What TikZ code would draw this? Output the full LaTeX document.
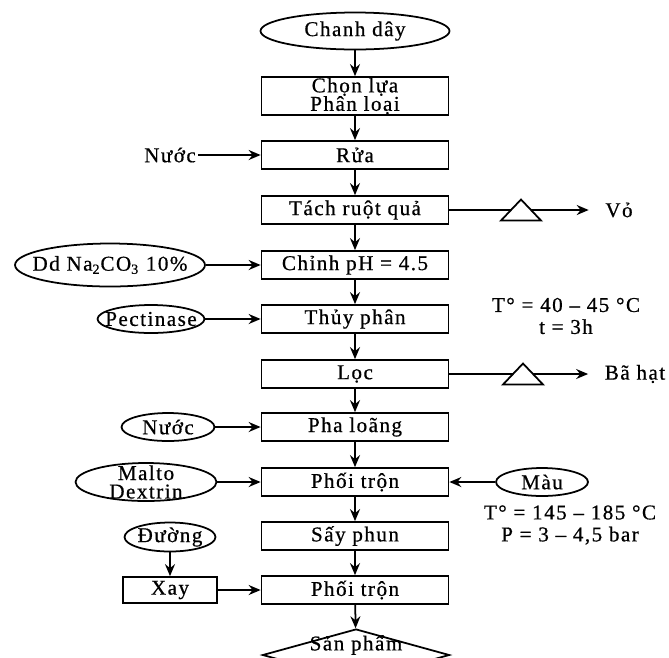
\documentclass[tikz,border=0pt]{standalone}
\usepackage{fontspec}
\setmainfont{Liberation Serif}[LetterSpace=7, FakeBold=0.6]
\usepackage{tikz}
\usetikzlibrary{arrows.meta}
\usetikzlibrary{shapes.geometric}
\tikzset{stage/.style = {draw, rectangle, minimum width=3.74cm, minimum height=0.56cm,
                         inner sep=0pt, align=center},
         feed/.style = {draw, ellipse, inner sep=-1cm, align=center},
         product/.style = {draw, diamond, inner sep=0pt, minimum width=3.74cm,
                           minimum height=1.04cm},
         note/.style = {inner sep=1pt, align=center}}

\begin{document}
\begin{tikzpicture}[x=0.02cm, y=-0.02cm, line width=1pt,
                    >={Stealth[length=2.4mm, width=2mm, inset=0.8mm]},
                    font=\fontsize{12}{10.5}\selectfont]
      \useasboundingbox (0, 0) rectangle (669, 657);

      % main line
      \node [feed, minimum width=3.78cm, minimum height=0.74cm] (chanh) at (355, 31) {Chanh dây};
      \node [stage, minimum height=0.76cm] (chon) at (355, 96) {Chọn lựa\\Phân loại};
      \node [stage] (rua) at (355, 155) {Rửa};
      \node [stage] (tach) at (355, 210) {Tách ruột quả};
      \node [stage] (chinh) at (355, 265) {Chỉnh pH = 4.5};
      \node [stage] (thuy) at (355, 319) {Thủy phân};
      \node [stage] (loc) at (355, 374) {Lọc};
      \node [stage] (pha) at (355, 427) {Pha loãng};
      \node [stage] (phoi1) at (355, 482) {Phối trộn};
      \node [stage] (say) at (355, 536) {Sấy phun};
      \node [stage] (phoi2) at (355, 590) {Phối trộn};
      \begin{scope}
        \clip (0, 0) rectangle (669, 657);
        \node [product, label={[yshift=0.2cm]center:Sản phẩm}] (sp) at (356, 655) {};
      \end{scope}

      \draw [->] (chanh) -- (chon);
      \draw [->] (chon) -- (rua);
      \draw [->] (rua) -- (tach);
      \draw [->] (tach) -- (chinh);
      \draw [->] (chinh) -- (thuy);
      \draw [->] (thuy) -- (loc);
      \draw [->] (loc) -- (pha);
      \draw [->] (pha) -- (phoi1);
      \draw [->] (phoi1) -- (say);
      \draw [->] (say) -- (phoi2);
      \draw [->] (phoi2) -- (sp);

      % inputs
      \node [note] (nuoc1) at (170, 155) {Nước};
      \node [feed, minimum width=3.8cm, minimum height=0.86cm] (dd) at (110, 265) {Dd Na\textsubscript{2}CO\textsubscript{3} 10\%};
      \node [feed, minimum width=2.14cm, minimum height=0.56cm] (pectin) at (151, 319) {Pectinase};
      \node [feed, minimum width=1.86cm, minimum height=0.56cm] (nuoc2) at (168, 427) {Nước};
      \node [feed, minimum width=2.82cm, minimum height=0.76cm] (malto) at (146, 482) {Malto\\Dextrin};
      \node [feed, minimum width=1.84cm, minimum height=0.56cm] (mau) at (542, 482) {Màu};
      \node [feed, minimum width=1.82cm, minimum height=0.58cm] (duong) at (170, 537) {Đường};
      \node [stage, minimum width=1.88cm, minimum height=0.52cm] (xay) at (170, 590) {Xay};

      \draw [->] (nuoc1) -- (rua);
      \draw [->] (dd) -- (chinh);
      \draw [->] (pectin) -- (thuy);
      \draw [->] (nuoc2) -- (pha);
      \draw [->] (malto) -- (phoi1);
      \draw [->] (mau) -- (phoi1);
      \draw [->] (duong) -- (xay);
      \draw [->] (xay) -- (phoi2);

      % outputs through the sieve
      \node [note] (vo) at (619, 210) {Vỏ};
      \coordinate (sieve1in) at (511, 210);
      \coordinate (sieve1out) at (531, 210);
      \draw (501, 220.5) -- (521, 199.5) -- (541, 220.5) -- cycle;
      \draw (tach) -- (sieve1in);
      \draw [->, shorten >=8pt] (sieve1out) -- (vo);

      \node [note] (bahat) at (635, 374) {Bã hạt};
      \coordinate (sieve2in) at (513, 374);
      \coordinate (sieve2out) at (533, 374);
      \draw (503, 384.5) -- (523, 363.5) -- (543, 384.5) -- cycle;
      \draw (loc) -- (sieve2in);
      \draw [->, shorten >=8pt] (sieve2out) -- (bahat);

      % conditions
      \node [note] (cond1) at (566, 316) {T° = 40 – 45 °C\\[2pt]t = 3h};
      \node [note] (cond2) at (570, 525) {T° = 145 – 185 °C\\[2pt]P = 3 – 4,5 bar};
    \end{tikzpicture}
\end{document}
